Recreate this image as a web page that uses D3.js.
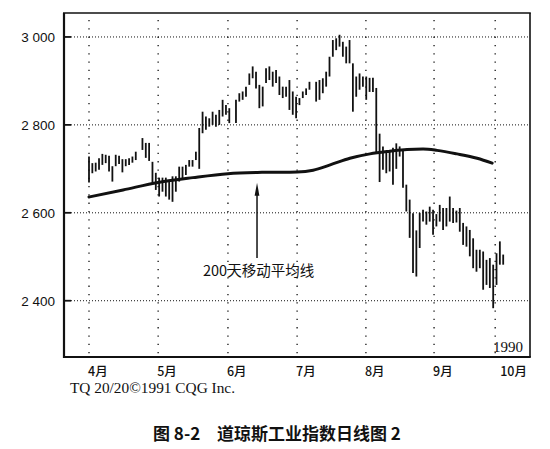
<!DOCTYPE html>
<html>
<head>
<meta charset="utf-8">
<script src="https://cdn.jsdelivr.net/npm/d3@7"></script>
<style>
  html, body { margin: 0; padding: 0; background: #fff; }
  svg { display: block; }
</style>
</head>
<body>
<svg id="chart" width="550" height="449" viewBox="0 0 550 449"></svg>
<script>
// --- Data ---
const monthLabels = ["4月", "5月", "6月", "7月", "8月", "9月", "10月"];
const monthTicks = [0, 20.7, 41.6, 62.3, 82.9, 103.3, 121.6]; // trading-session position of each grid line
const yTicks = [2400, 2600, 2800, 3000];

// daily highs / lows, one per trading session (null = no bar printed)
const highs = [
  2728, 2713, 2714, 2724, 2734, 2732, 2730, 2706, 2732, 2730, 2722, 2722, 2724, 2728, 2739, null,
  2770, 2759, 2759, 2716, 2691, 2680, 2680, 2680, 2675, 2683, 2683, 2705, 2705, 2709, 2720, 2720,
  2739, 2793, 2830, 2819, 2815, 2830, 2823, 2834, 2857, 2845, 2838, null,
  2857, 2872, 2876, 2887, 2917, 2933, 2921, 2891, 2887, 2929, 2933, 2921, 2925, 2910, 2887, 2887,
  2902, 2876, 2864, 2861, 2876, 2883, 2898, null,
  2898, 2902, 2906, 2921, 2955, 2993, 2997, 3005, 2989, 2978, 2993, 2940, 2910, 2917, 2910, 2910,
  2907, 2907, 2884, 2780, 2751, 2739, 2743, 2748, 2758, 2751, 2743, 2664, 2630, 2599, 2560, 2600,
  2607, 2603, 2614, 2607, 2597, 2618, 2611, 2611, 2637, 2611, 2605, 2611, 2577, 2569, 2561, 2542,
  2516, 2516, 2512, 2493, 2497, 2482, 2508, 2535, 2505
];
const lows = [
  2669, 2690, 2694, 2698, 2709, 2713, 2694, 2671, 2706, 2711, 2692, 2706, 2709, 2714, 2720, null,
  2743, 2725, 2718, 2668, 2652, 2637, 2648, 2637, 2630, 2625, 2648, 2671, 2675, 2686, 2705, 2705,
  2720, 2700, 2781, 2789, 2796, 2800, 2796, 2800, 2819, 2823, 2804, null,
  2804, 2853, 2857, 2864, 2891, 2906, 2883, 2838, 2842, 2895, 2902, 2887, 2895, 2868, 2861, 2864,
  2834, 2823, 2815, 2845, 2861, 2868, 2880, null,
  2853, 2857, 2872, 2887, 2910, 2955, 2970, 2978, 2955, 2940, 2940, 2830, 2864, 2880, 2887, 2857,
  2875, 2875, 2736, 2670, 2698, 2690, 2694, 2664, 2700, 2728, 2657, 2603, 2543, 2463, 2455, 2520,
  2580, 2573, 2580, 2550, 2569, 2580, 2561, 2569, 2580, 2577, 2578, 2557, 2527, 2523, 2501, 2474,
  2466, 2474, 2425, 2436, 2429, 2383, 2436, 2482, 2482
];

// 200-day moving average, sampled along the curve
const maSessions = [0, 10.2, 20.7, 31.1, 41.6, 51.8, 62.3, 67.1, 72.2, 78.1, 84.1, 90.1, 95.2, 100, 104.2, 110.2, 116.2, 120.7];
const maValues = [2636, 2652, 2669, 2680, 2689, 2692, 2693, 2697, 2709, 2724, 2734, 2740, 2744, 2745, 2742, 2734, 2724, 2713];

const maLabel = "200天移动平均线";
const maLabelSession = 50.3; // where the arrow touches the average
const yearLabel = "1990";
const sourceLabel = "TQ 20/20\u00A91991 CQG Inc.";
const figNumber = "图 8-2";
const figTitle = "道琼斯工业指数日线图 2";

// --- Layout ---
const svg = d3.select("#chart");
const frame = { left: 64, top: 13, right: 530, bottom: 357 };

const x = d3.scaleLinear().domain([0, highs.length - 1]).range([89, 503.2]);
const y = d3.scaleLinear().domain([2272, 3054.5]).range([frame.bottom, frame.top]);

const styles = {
  axisFont: "'Liberation Sans', Arial, sans-serif",
  cjkFont: "'Noto Sans CJK SC', sans-serif",
  serifFont: "'Liberation Serif', 'Times New Roman', serif",
  ink: "#111"
};

svg.append("rect").attr("width", 550).attr("height", 449).attr("fill", "#fff");

// --- Grid ---
const grid = svg.append("g").attr("class", "grid");

grid.selectAll(".vgrid")
  .data(monthTicks)
  .join("line")
  .attr("class", "vgrid")
  .attr("x1", d => x(d)).attr("x2", d => x(d))
  .attr("y1", frame.top + 7).attr("y2", frame.bottom)
  .attr("stroke", styles.ink)
  .attr("stroke-width", 1.3)
  .attr("stroke-dasharray", "1.3,7");

grid.selectAll(".hgrid")
  .data(yTicks)
  .join("line")
  .attr("class", "hgrid")
  .attr("x1", frame.left + 7).attr("x2", frame.right)
  .attr("y1", d => y(d)).attr("y2", d => y(d))
  .attr("stroke", styles.ink)
  .attr("stroke-width", 1)
  .attr("stroke-dasharray", "1,2");

// short solid ticks just inside the left frame
grid.selectAll(".ytick")
  .data(yTicks)
  .join("line")
  .attr("class", "ytick")
  .attr("x1", frame.left).attr("x2", frame.left + 7)
  .attr("y1", d => y(d)).attr("y2", d => y(d))
  .attr("stroke", styles.ink)
  .attr("stroke-width", 1.8);

// --- Frame ---
const frameG = svg.append("g").attr("class", "frame").attr("stroke", styles.ink);
frameG.append("line").attr("x1", frame.left - 1).attr("x2", frame.right + 0.8).attr("y1", frame.top).attr("y2", frame.top).attr("stroke-width", 1.6);
frameG.append("line").attr("x1", frame.right).attr("x2", frame.right).attr("y1", frame.top).attr("y2", frame.bottom).attr("stroke-width", 1.6);
frameG.append("line").attr("x1", frame.left).attr("x2", frame.left).attr("y1", frame.top).attr("y2", frame.bottom + 1).attr("stroke-width", 2.2);
frameG.append("line").attr("x1", frame.left - 1).attr("x2", frame.right + 0.8).attr("y1", frame.bottom).attr("y2", frame.bottom).attr("stroke-width", 2.2);

// --- Price bars ---
const bars = highs.map((h, i) => ({ i, high: h, low: lows[i] })).filter(d => d.high != null);

svg.append("g").attr("class", "bars")
  .selectAll("line")
  .data(bars)
  .join("line")
  .attr("x1", d => x(d.i)).attr("x2", d => x(d.i))
  .attr("y1", d => y(d.high)).attr("y2", d => y(d.low))
  .attr("stroke", styles.ink)
  .attr("stroke-width", 1.8);

// --- Moving average ---
const maLine = d3.line()
  .x(d => x(d[0]))
  .y(d => y(d[1]))
  .curve(d3.curveMonotoneX);

svg.append("path")
  .attr("d", maLine(maSessions.map((s, i) => [s, maValues[i]])))
  .attr("fill", "none")
  .attr("stroke", styles.ink)
  .attr("stroke-width", 3)
  .attr("stroke-linecap", "round");

// --- Annotation arrow + label ---
const arrowX = x(maLabelSession);
const tipY = y(2691) + 10;
const ann = svg.append("g").attr("class", "annotation");
ann.append("line")
  .attr("x1", arrowX).attr("x2", arrowX)
  .attr("y1", tipY + 8).attr("y2", 258)
  .attr("stroke", styles.ink)
  .attr("stroke-width", 1.5);
ann.append("path")
  .attr("d", `M${arrowX},${tipY}L${arrowX - 2.4},${tipY + 13}L${arrowX + 2.4},${tipY + 13}Z`)
  .attr("fill", styles.ink);
ann.append("text")
  .attr("x", 203).attr("y", 276)
  .style("font-family", styles.cjkFont)
  .style("font-size", "14.5px")
  .attr("fill", styles.ink)
  .text(maLabel);

// --- Axis labels ---
svg.selectAll(".ylabel")
  .data(yTicks)
  .join("text")
  .attr("class", "ylabel")
  .attr("x", 55)
  .attr("y", d => y(d))
  .attr("dy", "0.36em")
  .attr("text-anchor", "end")
  .style("font-family", styles.axisFont)
  .style("font-size", "13.5px")
  .attr("fill", styles.ink)
  .text(d => d3.format(",")(d).replace(",", " "));

svg.selectAll(".mlabel")
  .data(monthLabels)
  .join("text")
  .attr("class", "mlabel")
  .attr("x", (d, i) => i === monthLabels.length - 1 ? frame.right - 3 : x(monthTicks[i]) - 1)
  .attr("y", 376)
  .attr("text-anchor", (d, i) => i === monthLabels.length - 1 ? "end" : "start")
  .style("font-family", styles.cjkFont)
  .style("font-size", "12.5px")
  .style("font-weight", 500)
  .attr("fill", styles.ink)
  .text(d => d);

svg.append("text")
  .attr("x", 523).attr("y", 352)
  .attr("text-anchor", "end")
  .style("font-family", styles.serifFont)
  .style("font-size", "15px")
  .attr("fill", styles.ink)
  .text(yearLabel);

svg.append("text")
  .attr("x", 70).attr("y", 393)
  .attr("textLength", 165)
  .attr("lengthAdjust", "spacingAndGlyphs")
  .style("font-family", styles.serifFont)
  .style("font-size", "15px")
  .attr("fill", styles.ink)
  .text(sourceLabel);

// --- Figure caption ---
svg.append("text")
  .attr("x", 153).attr("y", 440)
  .style("font-family", styles.cjkFont)
  .style("font-size", "17px")
  .style("font-weight", 700)
  .attr("fill", styles.ink)
  .text(figNumber);
svg.append("text")
  .attr("x", 217).attr("y", 440)
  .style("font-family", styles.cjkFont)
  .style("font-size", "17px")
  .style("font-weight", 700)
  .attr("fill", styles.ink)
  .text(figTitle);
</script>
</body>
</html>
